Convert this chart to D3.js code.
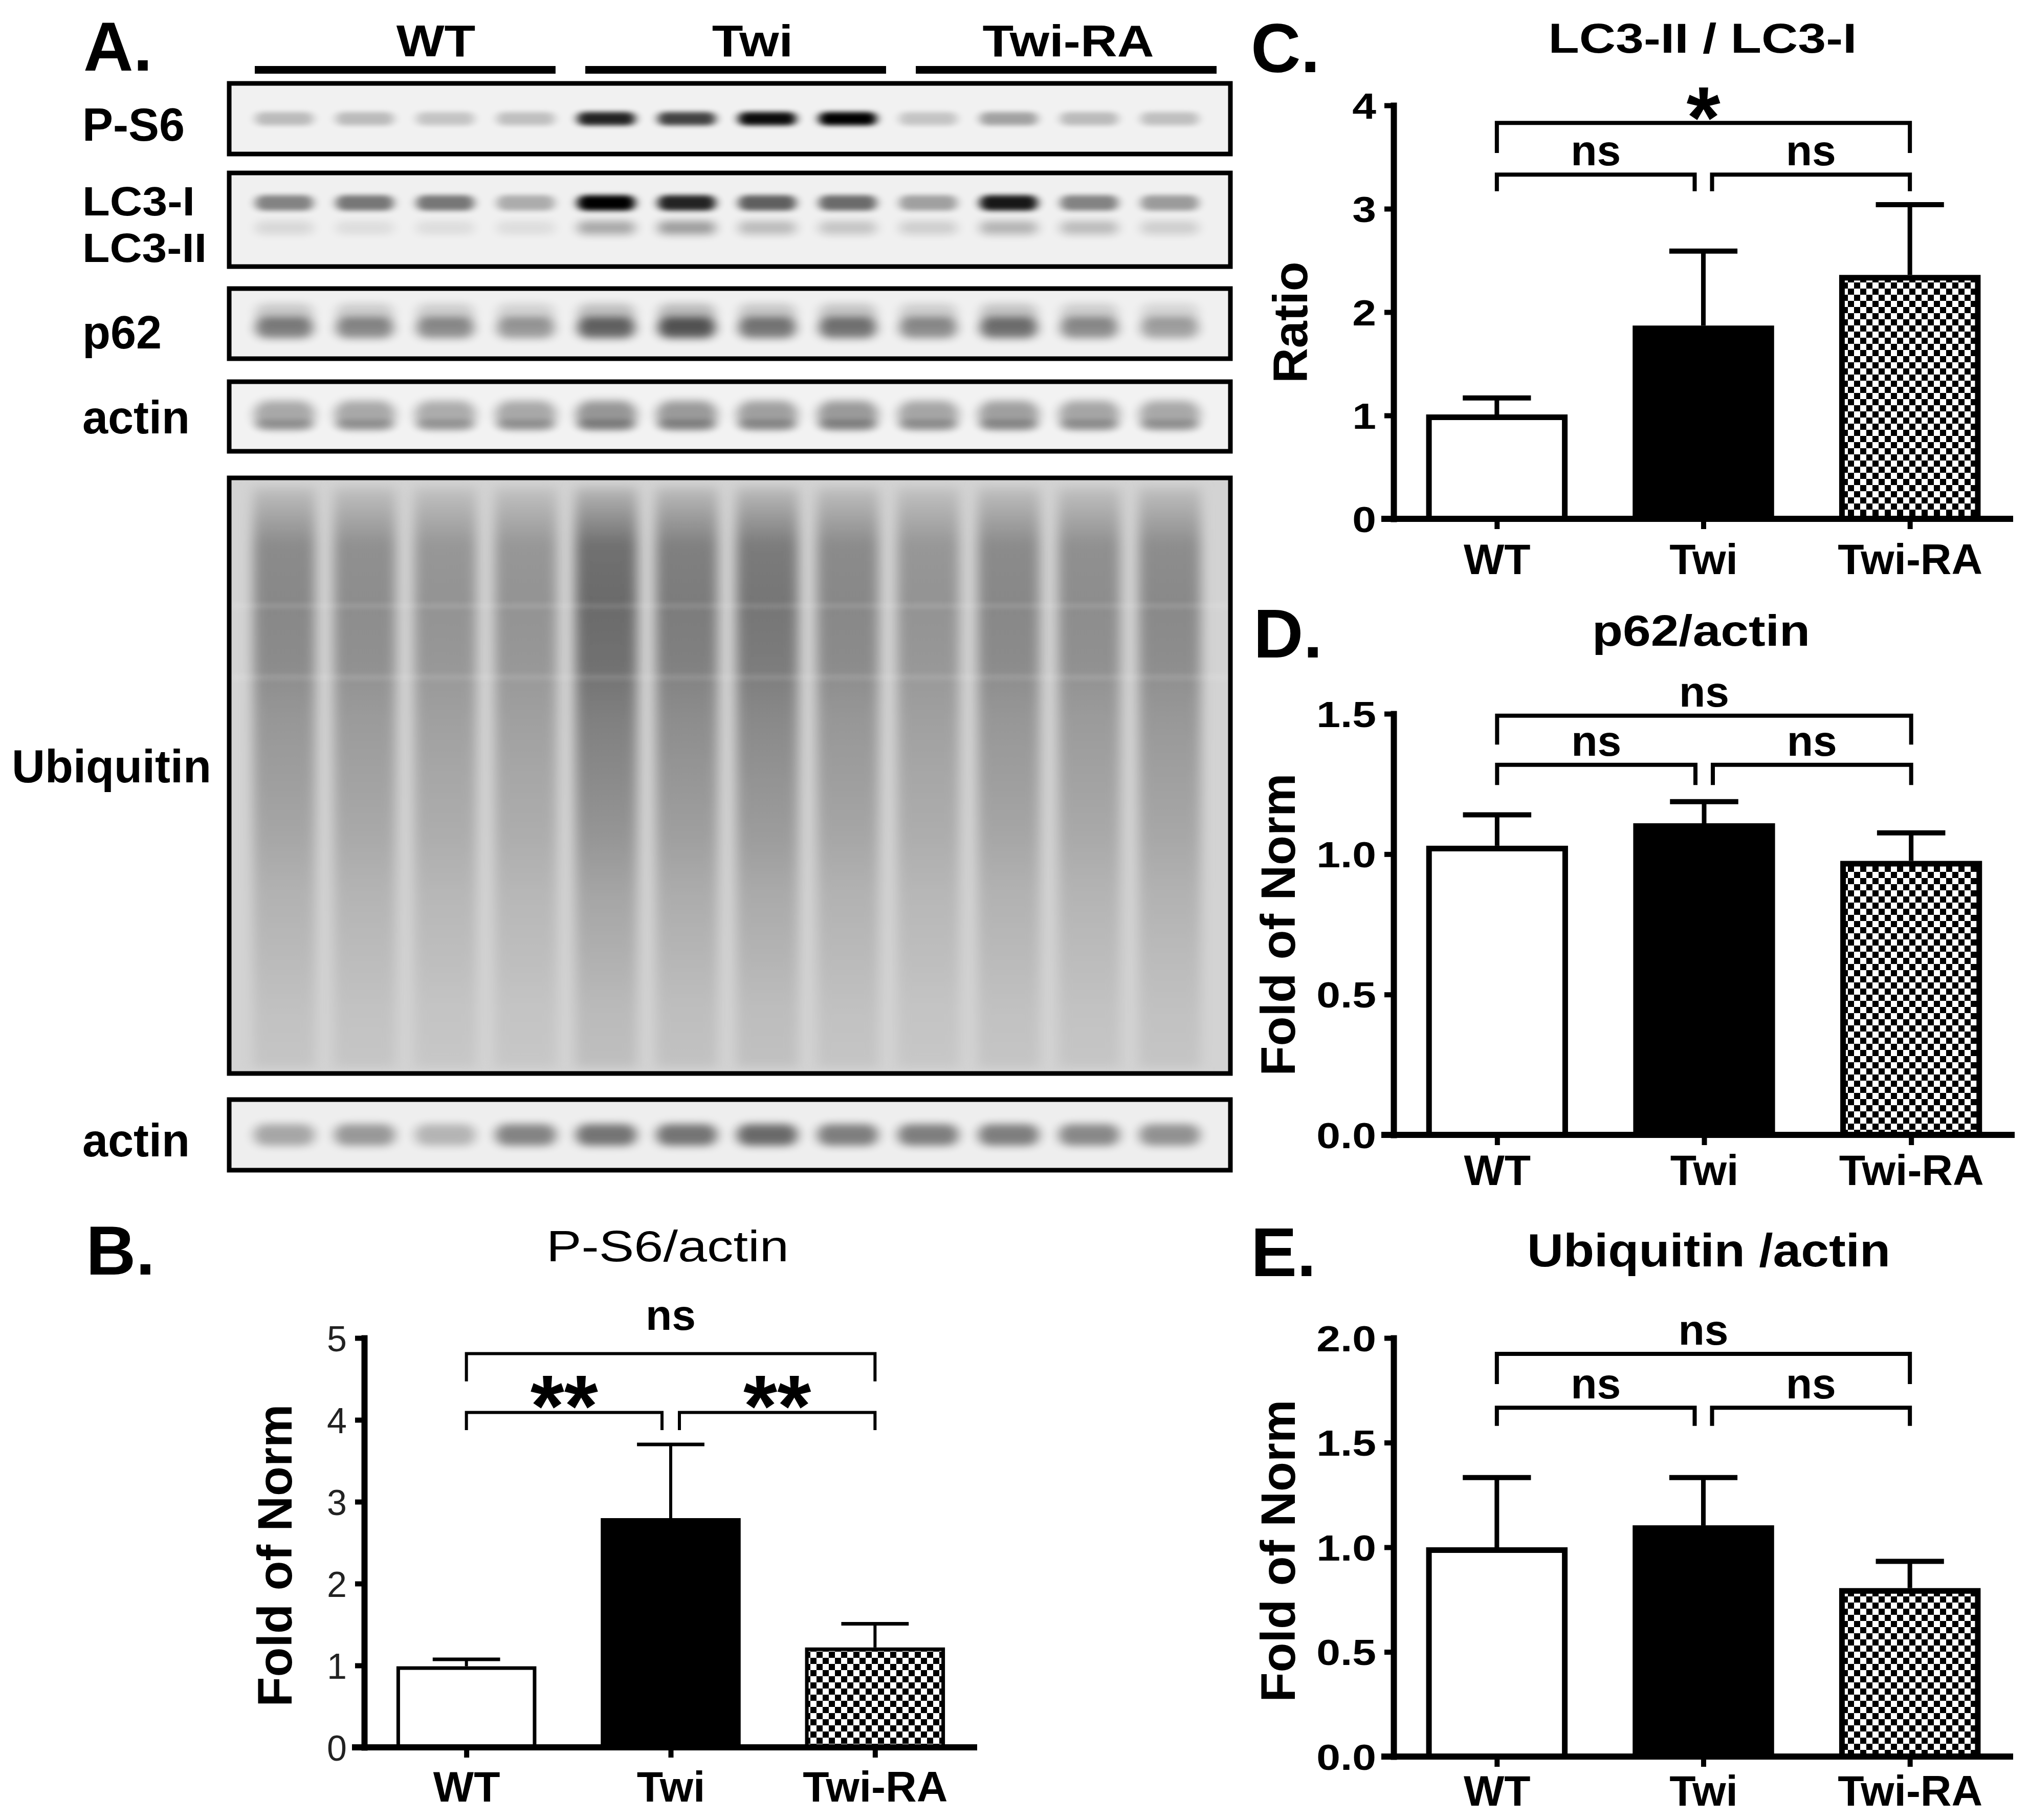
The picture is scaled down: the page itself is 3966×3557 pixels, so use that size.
<!DOCTYPE html>
<html><head><meta charset="utf-8">
<script src="https://cdn.jsdelivr.net/npm/d3@7"></script>
<style>html,body{margin:0;padding:0;background:#fff;} svg{display:block;}</style>
</head><body>
<svg id="fig" width="3966" height="3557"></svg>
<script>
// ---------------- DATA ----------------
const groups = ["WT", "Twi", "Twi-RA"];
const lanes = ["WT-1","WT-2","WT-3","WT-4","Twi-1","Twi-2","Twi-3","Twi-4","Twi-RA-1","Twi-RA-2","Twi-RA-3","Twi-RA-4"];

// western blot band intensities (0..1 darkness)
const blotPS6    = [0.22,0.22,0.18,0.20, 0.85,0.72,0.95,1.00, 0.18,0.32,0.22,0.20];
const blotLC3I   = [0.45,0.50,0.50,0.28, 1.00,0.85,0.60,0.55, 0.33,0.90,0.45,0.35];
const blotLC3II  = [0.10,0.08,0.08,0.08, 0.30,0.35,0.22,0.18, 0.14,0.25,0.22,0.14];
const blotP62    = [0.55,0.50,0.48,0.42, 0.68,0.75,0.58,0.60, 0.48,0.62,0.48,0.38];
const blotActin1 = [0.40,0.40,0.38,0.40, 0.50,0.48,0.45,0.48, 0.42,0.45,0.42,0.40];
const blotUbiq   = [0.45,0.42,0.38,0.38, 0.62,0.52,0.55,0.45, 0.38,0.45,0.42,0.44];
const blotActin2 = [0.35,0.42,0.28,0.52, 0.60,0.60,0.65,0.55, 0.55,0.55,0.50,0.45];

// bar charts: mean and upper error (SEM)
const ps6Mean = [0.99, 2.80, 1.22];
const ps6Err  = [0.085, 0.90, 0.29];
const lc3Mean = [1.01, 1.87, 2.36];
const lc3Err  = [0.16, 0.72, 0.68];
const p62Mean = [1.03, 1.11, 0.976];
const p62Err  = [0.11, 0.077, 0.10];
const ubMean  = [1.00, 1.105, 0.805];
const ubErr   = [0.333, 0.228, 0.128];

// axis ticks
const ps6Ticks = [0,1,2,3,4,5];
const lc3Ticks = [0,1,2,3,4];
const p62Ticks = [0,0.5,1.0,1.5];
const ubTicks  = [0,0.5,1.0,1.5,2.0];

// significance labels: [WT vs Twi-RA, WT vs Twi, Twi vs Twi-RA]
const ps6Sig = ["ns","**","**"];
const lc3Sig = ["*","ns","ns"];
const p62Sig = ["ns","ns","ns"];
const ubSig  = ["ns","ns","ns"];
// bracket levels in data units: [top line, top leg end, lower line, lower leg end]
const ps6Brk = [4.81, 4.47, 4.09, 3.875];
const lc3Brk = [3.83, 3.54, 3.33, 3.17];
const p62Brk = [1.493, 1.39, 1.318, 1.246];
const ubBrk  = [1.924, 1.78, 1.667, 1.58];

// ---------------- DRAWING ----------------
const FONT = "'Liberation Sans', Arial, Helvetica, sans-serif";
const svg = d3.select("#fig");
svg.append("rect").attr("width",3966).attr("height",3557).attr("fill","#fff");
const defs = svg.append("defs");

function stretch(sel, k){
  sel.each(function(){
    const L = this.getComputedTextLength();
    d3.select(this).attr("textLength", L*k).attr("lengthAdjust","spacingAndGlyphs");
  });
}
function fitW(sel, w){ sel.attr("textLength", w).attr("lengthAdjust","spacingAndGlyphs"); }

// checker pattern
const pat = defs.append("pattern").attr("id","checker").attr("patternUnits","userSpaceOnUse")
  .attr("width",24).attr("height",24);
pat.append("rect").attr("width",24).attr("height",24).attr("fill","#fff");
pat.append("rect").attr("width",12).attr("height",12).attr("fill","#000");
pat.append("rect").attr("x",12).attr("y",12).attr("width",12).attr("height",12).attr("fill","#000");

// blur filters
[["bl1","9 5"],["bl2","11 8"],["bl3","14 10"],["blU","12 10"]].forEach(([id,sd])=>{
  defs.append("filter").attr("id",id).attr("x","-50%").attr("y","-100%").attr("width","200%").attr("height","300%")
    .append("feGaussianBlur").attr("stdDeviation",sd);
});

// ---------- Panel A: blots ----------
const A = svg.append("g");
const frameX0 = 448, frameX1 = 2405;
const lane = d3.scaleBand().domain(lanes).range([455, 2387]).padding(0.28);
const grp = d3.scaleBand().domain(groups).range([498, 2378]).paddingInner(0.09);

A.append("text").text("A.").attr("x",163).attr("y",138).attr("font-family",FONT)
  .attr("font-weight","bold").attr("font-size",135);

// group header bars & labels
A.selectAll(".gbar").data(groups).join("rect")
  .attr("x",d=>grp(d)).attr("width",grp.bandwidth()).attr("y",129).attr("height",15).attr("fill","#000");
A.selectAll(".glab").data(groups).join("text").text(d=>d)
  .attr("x",(d,i)=>grp(d)+grp.bandwidth()/2 + [60,33,4][i]).attr("y",110)
  .attr("text-anchor","middle").attr("font-family",FONT).attr("font-weight","bold").attr("font-size",88)
  .call(stretch,1.13);

const blots = [
  {top:163, bottom:301, bg:"#f1f1f1", labels:[["P-S6",275,90]],
   layers:[{vals:blotPS6, cy:0.5, h:26, w:1.0, blur:"bl1", op:1.0}]},
  {top:338, bottom:521, bg:"#f0f0f0", labels:[["LC3-I",421,80],["LC3-II",512,80]],
   layers:[{vals:blotLC3I, cy:0.32, h:30, w:1.0, blur:"bl1", op:1.0},
           {vals:blotLC3II, cy:0.585, h:26, w:1.0, blur:"bl2", op:1.0}]},
  {top:564, bottom:701, bg:"#f0f0f0", labels:[["p62",681,90]],
   layers:[{vals:blotP62, cy:0.36, h:40, w:1.0, blur:"bl2", op:0.3},
           {vals:blotP62, cy:0.56, h:40, w:1.0, blur:"bl2", op:0.85}]},
  {top:746, bottom:882, bg:"#f2f2f2", labels:[["actin",847,90]],
   layers:[{vals:blotActin1, cy:0.48, h:56, w:1.05, blur:"bl2", op:0.75},
           {vals:blotActin1, cy:0.62, h:20, w:1.0, blur:"bl1", op:0.4}]},
  {top:934, bottom:2098, bg:"#d3d3d3", labels:[["Ubiquitin",1529,90]], ubiq:true, layers:[]},
  {top:2149, bottom:2287, bg:"#eeeeee", labels:[["actin",2260,90]],
   layers:[{vals:blotActin2, cy:0.5, h:42, w:1.05, blur:"bl2", op:0.85}]}
];
const labelWidths = {"LC3-I":220, "LC3-II":243};

// ubiquitin smear profile (relative darkness down the lane)
const ubiOffsets = [0,0.04,0.1,0.2,0.3,0.4,0.5,0.6,0.7,0.8,0.9,1.0];
const ubiShape   = [0.25,0.55,0.95,1.0,0.95,0.8,0.7,0.6,0.45,0.35,0.25,0.2];

blots.forEach((b,bi)=>{
  const g = A.append("g");
  const cid = "clip"+bi;
  defs.append("clipPath").attr("id",cid).append("rect")
    .attr("x",frameX0).attr("y",b.top).attr("width",frameX1-frameX0).attr("height",b.bottom-b.top);
  const inner = g.append("g").attr("clip-path",`url(#${cid})`);
  inner.append("rect").attr("x",frameX0).attr("y",b.top).attr("width",frameX1-frameX0)
    .attr("height",b.bottom-b.top).attr("fill",b.bg);
  const H = b.bottom-b.top;
  b.layers.forEach(L=>{
    inner.selectAll(null).data(L.vals).join("rect")
      .attr("x",(d,i)=>lane(lanes[i]) + lane.bandwidth()*(1-L.w)/2)
      .attr("width",lane.bandwidth()*L.w)
      .attr("y",b.top + H*L.cy - L.h/2).attr("height",L.h).attr("rx",L.h/2)
      .attr("fill","#000").attr("opacity",d=>Math.min(1,d*L.op))
      .attr("filter",`url(#${L.blur})`);
  });
  if (b.ubiq){
    blotUbiq.forEach((v,i)=>{
      const gid = "ug"+i;
      const lg = defs.append("linearGradient").attr("id",gid).attr("x1",0).attr("x2",0).attr("y1",0).attr("y2",1);
      ubiOffsets.forEach((o,k)=>{
        const gray = Math.round(212 - 170*v*ubiShape[k]);
        lg.append("stop").attr("offset",o).attr("stop-color",d3.rgb(gray,gray,gray).formatHex());
      });
    });
    inner.selectAll(null).data(blotUbiq).join("rect")
      .attr("x",(d,i)=>lane(lanes[i]) - 4).attr("width",lane.bandwidth()+8)
      .attr("y",b.top+18).attr("height",H-30)
      .attr("fill",(d,i)=>`url(#ug${i})`).attr("filter","url(#blU)");
    [0.215,0.335].forEach(f=>{
      inner.append("rect").attr("x",frameX0).attr("width",frameX1-frameX0)
        .attr("y",b.top+H*f-5).attr("height",10).attr("fill","#fff").attr("opacity",0.13).attr("filter","url(#bl1)");
    });
  }
  g.append("rect").attr("x",frameX0).attr("y",b.top).attr("width",frameX1-frameX0).attr("height",H)
    .attr("fill","none").attr("stroke","#000").attr("stroke-width",9);
  b.labels.forEach(([t,y,fs])=>{
    const tx = A.append("text").text(t).attr("x", t==="Ubiquitin"?23:161).attr("y",y)
      .attr("font-family",FONT).attr("font-weight","bold").attr("font-size",fs);
    if (labelWidths[t]) tx.call(fitW, labelWidths[t]);
  });
});

// ---------- bar chart panels ----------
const panels = [
  {mean:ps6Mean, err:ps6Err, ticks:ps6Ticks, fmt:d3.format("d"), max:5, sig:ps6Sig, brk:ps6Brk,
   x0:712, x1:1910, yTop:2615, yBot:3415, axisW:12, barW:7, errW:6, brkW:6, xPad:26,
   tickSize:70, tickWeight:"normal", tickColor:"#222", tickK:1.0, nsGap:46, astGap:49,
   title:{t:"P-S6/actin", x:1305, y:2465, size:86, weight:"normal", w:474},
   ylab:{t:"Fold of Norm", x:570, y:3040}, letter:{t:"B.", x:168, y:2491}},
  {mean:lc3Mean, err:lc3Err, ticks:lc3Ticks, fmt:d3.format("d"), max:4, sig:lc3Sig, brk:lc3Brk,
   x0:2724, x1:3935, yTop:206, yBot:1014, axisW:12, barW:11, errW:9, brkW:8, xPad:28,
   tickSize:70, tickWeight:"bold", tickColor:"#000", tickK:1.2, nsGap:18, astGap:47,
   title:{t:"LC3-II / LC3-I", x:3328, y:103, size:82, weight:"bold", w:603},
   ylab:{t:"Ratio", x:2555, y:630}, letter:{t:"C.", x:2445, y:141}},
  {mean:p62Mean, err:p62Err, ticks:p62Ticks, fmt:d3.format(".1f"), max:1.5, sig:p62Sig, brk:p62Brk,
   x0:2724, x1:3938, yTop:1395, yBot:2218, axisW:12, barW:11, errW:9, brkW:8, xPad:18,
   tickSize:70, tickWeight:"bold", tickColor:"#000", tickK:1.2, nsGap:18, astGap:47,
   title:{t:"p62/actin", x:3325, y:1262, size:86, weight:"bold", w:426},
   ylab:{t:"Fold of Norm", x:2531, y:1807}, letter:{t:"D.", x:2450, y:1285}},
  {mean:ubMean, err:ubErr, ticks:ubTicks, fmt:d3.format(".1f"), max:2.0, sig:ubSig, brk:ubBrk,
   x0:2724, x1:3935, yTop:2615, yBot:3433, axisW:12, barW:11, errW:9, brkW:8, xPad:16,
   tickSize:70, tickWeight:"bold", tickColor:"#000", tickK:1.2, nsGap:18, astGap:47,
   title:{t:"Ubiquitin /actin", x:3340, y:2475, size:90, weight:"bold", w:710},
   ylab:{t:"Fold of Norm", x:2531, y:3031}, letter:{t:"E.", x:2445, y:2494}}
];

const fills = ["#fff", "#000", "url(#checker)"];

panels.forEach(p=>{
  const g = svg.append("g");
  const x = d3.scalePoint().domain(groups).range([p.x0, p.x1]).padding(0.5);
  const y = d3.scaleLinear().domain([0, p.max]).range([p.yBot, p.yTop]);
  const bw = x.step()*0.685;
  const capHalf = x.step()*0.165;

  // letter & title
  g.append("text").text(p.letter.t).attr("x",p.letter.x).attr("y",p.letter.y)
    .attr("font-family",FONT).attr("font-weight","bold").attr("font-size",135);
  g.append("text").text(p.title.t).attr("x",p.title.x).attr("y",p.title.y).attr("text-anchor","middle")
    .attr("font-family",FONT).attr("font-weight",p.title.weight).attr("font-size",p.title.size)
    .call(fitW, p.title.w);
  // y label
  g.append("text").text(p.ylab.t).attr("transform",`translate(${p.ylab.x},${p.ylab.y}) rotate(-90)`)
    .attr("text-anchor","middle").attr("font-family",FONT).attr("font-weight","bold").attr("font-size",95);

  // error bars
  const data = groups.map((k,i)=>({k, m:p.mean[i], e:p.err[i], i}));
  g.selectAll(null).data(data).join("line")
    .attr("x1",d=>x(d.k)).attr("x2",d=>x(d.k)).attr("y1",d=>y(d.m)).attr("y2",d=>y(d.m+d.e))
    .attr("stroke","#000").attr("stroke-width",p.errW);
  g.selectAll(null).data(data).join("line")
    .attr("x1",d=>x(d.k)-capHalf).attr("x2",d=>x(d.k)+capHalf).attr("y1",d=>y(d.m+d.e)).attr("y2",d=>y(d.m+d.e))
    .attr("stroke","#000").attr("stroke-width",p.errW+1);
  // bars
  g.selectAll(null).data(data).join("rect")
    .attr("x",d=>x(d.k)-bw/2+p.barW/2).attr("width",bw-p.barW)
    .attr("y",d=>y(d.m)+p.barW/2).attr("height",d=>y(0)-y(d.m)-p.barW/2)
    .attr("fill",d=>fills[d.i]).attr("stroke","#000").attr("stroke-width",p.barW);

  // y axis
  const ya = g.append("g").attr("transform",`translate(${p.x0},0)`)
    .call(d3.axisLeft(y).tickValues(p.ticks).tickFormat(p.fmt).tickSize(18).tickSizeOuter(0).tickPadding(16));
  ya.select(".domain").attr("stroke-width",p.axisW).attr("stroke-linecap","square");
  ya.selectAll(".tick line").attr("stroke-width",p.axisW-2);
  ya.selectAll(".tick text").attr("font-family",FONT).attr("font-size",p.tickSize)
    .attr("font-weight",p.tickWeight).attr("fill",p.tickColor).attr("dy","0.36em").call(stretch,p.tickK);

  // x axis
  const xa = g.append("g").attr("transform",`translate(0,${p.yBot})`)
    .call(d3.axisBottom(x).tickSize(20).tickSizeOuter(0).tickPadding(p.xPad));
  xa.select(".domain").attr("d",`M${p.x0-24},0H${p.x1}`).attr("stroke-width",p.axisW);
  xa.selectAll(".tick line").attr("stroke-width",p.axisW-2);
  xa.selectAll(".tick text").attr("font-family",FONT).attr("font-size",84).attr("font-weight","bold").attr("fill","#000");

  // brackets
  const gap = 17;
  const [tl, tleg, ll, lleg] = p.brk;
  const brackets = [
    {xa:x(groups[0]), xb:x(groups[2]), yl:tl, yleg:tleg, s:p.sig[0]},
    {xa:x(groups[0]), xb:x(groups[1])-gap, yl:ll, yleg:lleg, s:p.sig[1]},
    {xa:x(groups[1])+gap, xb:x(groups[2]), yl:ll, yleg:lleg, s:p.sig[2]}
  ];
  g.selectAll(null).data(brackets).join("path")
    .attr("d",d=>`M${d.xa},${y(d.yleg)}V${y(d.yl)}H${d.xb}V${y(d.yleg)}`)
    .attr("fill","none").attr("stroke","#000").attr("stroke-width",p.brkW);
  brackets.forEach(d=>{
    const mx = (d.xa+d.xb)/2;
    if (d.s === "ns"){
      g.append("text").text("ns").attr("x",mx).attr("y",y(d.yl)-p.nsGap).attr("text-anchor","middle")
        .attr("font-family",FONT).attr("font-weight","bold").attr("font-size",84);
    } else {
      const fs = 170;
      g.append("text").text(d.s).attr("x",mx).attr("y",y(d.yl)-p.astGap+0.56*fs).attr("text-anchor","middle")
        .attr("font-family",FONT).attr("font-weight","bold").attr("font-size",fs);
    }
  });
});
</script>
</body></html>
